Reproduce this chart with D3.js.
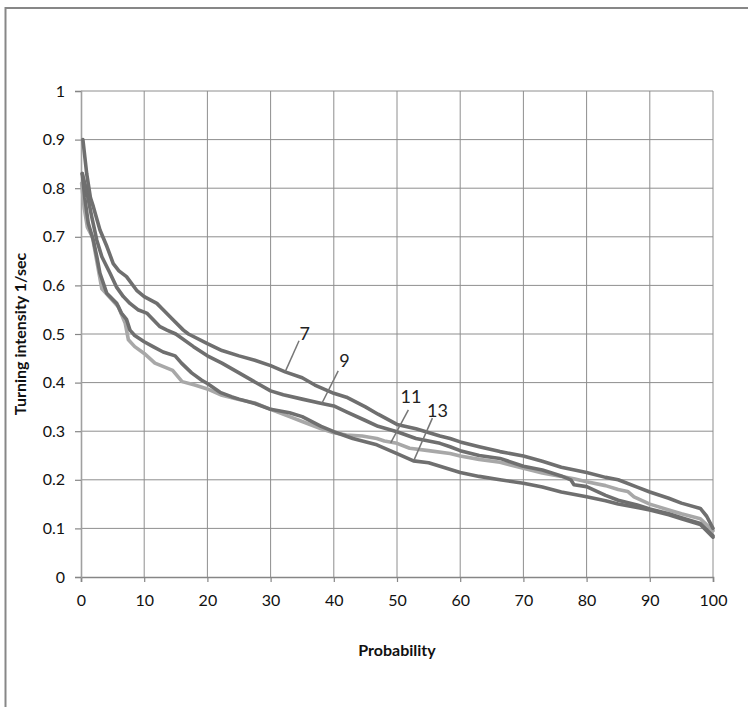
<!DOCTYPE html>
<html><head><meta charset="utf-8">
<script src="https://cdn.jsdelivr.net/npm/d3@7"></script>
<style>html,body{margin:0;padding:0;background:#fff;}svg{display:block;}</style>
</head><body><div id="chart"></div>
<script>
const xTicks = [0,10,20,30,40,50,60,70,80,90,100];
const yTicks = [0,0.1,0.2,0.3,0.4,0.5,0.6,0.7,0.8,0.9,1];
const seriesNames = ["7","9","11","13"];

const s7 = [[0.3,0.90],[0.6,0.865],[0.9,0.83],[1.5,0.78],[1.95,0.762],[3,0.714],[4.1,0.68],[5.1,0.645],[6,0.63],[7.2,0.618],[8.8,0.59],[10,0.577],[12,0.563],[13,0.55],[14.6,0.529],[16.2,0.508],[17,0.50],[20,0.48],[22.3,0.466],[25,0.455],[27.5,0.446],[30,0.435],[32.3,0.422],[35,0.41],[37,0.395],[40,0.378],[42,0.37],[45,0.35],[47,0.335],[50,0.314],[53,0.305],[56.8,0.29],[58.4,0.285],[60,0.278],[63,0.268],[66.3,0.258],[70,0.249],[73,0.238],[76,0.226],[80,0.215],[83,0.205],[85,0.2],[88,0.185],[90,0.175],[93,0.162],[95,0.152],[98,0.141],[99,0.125],[100,0.10]];
const s9 = [[0.2,0.83],[0.8,0.80],[1.7,0.741],[2.5,0.693],[3.3,0.659],[4.6,0.625],[5.6,0.597],[6.7,0.577],[7.75,0.563],[9,0.55],[10.4,0.543],[12.5,0.515],[13.6,0.508],[15,0.50],[17.8,0.474],[20,0.455],[22.3,0.44],[25,0.42],[27,0.405],[30,0.383],[32,0.375],[35,0.366],[38.1,0.357],[40,0.352],[42,0.34],[45,0.322],[47,0.31],[50,0.299],[53,0.285],[56.8,0.275],[58.4,0.268],[60,0.26],[63,0.25],[66.3,0.244],[70,0.228],[73,0.22],[76,0.208],[77.5,0.2],[78,0.19],[80,0.186],[83,0.168],[85,0.158],[88,0.148],[90,0.14],[93,0.13],[95,0.122],[98,0.11],[100,0.085]];
const s11 = [[0.1,0.81],[0.5,0.76],[1,0.72],[1.8,0.70],[2.5,0.65],[3.3,0.593],[4,0.583],[5.9,0.556],[7,0.522],[7.5,0.488],[8.5,0.474],[10,0.46],[11.7,0.44],[14.5,0.425],[16,0.402],[18,0.395],[20,0.387],[22.3,0.374],[25,0.365],[27.5,0.358],[30,0.345],[33,0.33],[35,0.32],[38,0.305],[40,0.297],[42,0.292],[44.5,0.29],[46.8,0.285],[48,0.28],[50,0.275],[52,0.265],[55,0.26],[58.4,0.254],[60,0.249],[63,0.242],[66.3,0.236],[70,0.224],[73,0.214],[76,0.207],[78,0.202],[80,0.196],[83,0.188],[85,0.18],[86.5,0.176],[87.5,0.165],[90,0.15],[93,0.138],[95,0.13],[98,0.12],[100,0.095]];
const s13 = [[0.2,0.83],[0.6,0.78],[1.15,0.728],[1.95,0.693],[2.5,0.659],[3,0.625],[4.07,0.584],[5.65,0.563],[6.4,0.543],[7.2,0.53],[7.75,0.508],[8.5,0.497],[10,0.484],[11.4,0.474],[13,0.463],[14.9,0.455],[15.9,0.44],[17.5,0.42],[19.1,0.405],[20,0.398],[22,0.38],[23.8,0.371],[25,0.366],[27.5,0.357],[30,0.345],[33,0.338],[35,0.33],[38,0.31],[40,0.299],[43,0.285],[46.8,0.272],[50,0.254],[52.6,0.239],[55,0.235],[56.8,0.228],[60,0.215],[63,0.207],[66.3,0.2],[70,0.193],[73,0.185],[76,0.175],[80,0.165],[83,0.157],[85,0.15],[88,0.143],[90,0.138],[93,0.128],[95,0.12],[98,0.108],[100,0.082]];
const seriesData = [s7, s9, s11, s13];
const seriesColors = ["#6f6f6f","#6f6f6f","#a8a8a8","#6f6f6f"];

const labelNames = ["7","9","11","13"];
const labelText = [[35.4,0.502],[41.7,0.447],[52.2,0.373],[56.4,0.344]];
const leaderFrom = [[34.5,0.486],[40.7,0.424],[51.8,0.344],[55.6,0.327]];
const leaderTo = [[32.3,0.422],[38.1,0.357],[49.0,0.276],[52.7,0.241]];

const W = 748, H = 707;
const svg = d3.select("#chart").append("svg").attr("width", W).attr("height", H);
svg.append("rect").attr("x",0).attr("y",0).attr("width",W).attr("height",H).attr("fill","#fff");
svg.append("rect").attr("x",5.5).attr("y",8).attr("width",W+20).attr("height",H+20)
  .attr("fill","none").attr("stroke","#878787").attr("stroke-width",2);

const x = d3.scaleLinear().domain([0,100]).range([81,713]);
const y = d3.scaleLinear().domain([0,1]).range([577,91]);
const font = "Lato, 'Open Sans', 'Liberation Sans', sans-serif";

const g = svg.append("g");
g.selectAll("line.vg").data(xTicks.slice(1)).enter().append("line")
  .attr("x1",d=>x(d)).attr("x2",d=>x(d)).attr("y1",y(1)).attr("y2",y(0))
  .attr("stroke","#8e8e8e").attr("stroke-width",1);
g.selectAll("line.hg").data(yTicks.slice(1)).enter().append("line")
  .attr("x1",x(0)).attr("x2",x(100)).attr("y1",d=>y(d)).attr("y2",d=>y(d))
  .attr("stroke","#8e8e8e").attr("stroke-width",1);

const xAxis = d3.axisBottom(x).tickValues(xTicks).tickSize(5).tickPadding(13).tickFormat(d3.format("d"));
const yAxis = d3.axisLeft(y).tickValues(yTicks).tickSize(6).tickPadding(10).tickFormat(d => d===0?"0":d===1?"1":d3.format(".1f")(d));
const gx = svg.append("g").attr("transform",`translate(0,${y(0)})`).call(xAxis);
const gy = svg.append("g").attr("transform",`translate(${x(0)},0)`).call(yAxis);
[gx,gy].forEach(a=>{
  a.select(".domain").attr("stroke","#868686").attr("stroke-width",1.6);
  a.selectAll(".tick line").attr("stroke","#868686").attr("stroke-width",1.2);
  a.selectAll(".tick text").attr("fill","#111").style("font-family",font).style("font-size","16px");
});
gy.select(".domain").attr("stroke","#a0a0a0");

const line = d3.line().x(d=>x(d[0])).y(d=>y(d[1]));
const order = [2,3,1,0];
order.forEach(i=>{
  svg.append("path").datum(seriesData[i]).attr("d",line)
    .attr("fill","none").attr("stroke",seriesColors[i]).attr("stroke-width",3.6)
    .attr("stroke-linejoin","round").attr("stroke-linecap","round");
});

labelNames.forEach((n,i)=>{
  svg.append("line").attr("x1",x(leaderFrom[i][0])).attr("y1",y(leaderFrom[i][1]))
    .attr("x2",x(leaderTo[i][0])).attr("y2",y(leaderTo[i][1]))
    .attr("stroke","#777").attr("stroke-width",1.5);
  svg.append("text").attr("x",x(labelText[i][0])).attr("y",y(labelText[i][1]))
    .attr("text-anchor","middle").attr("dominant-baseline","central")
    .style("font-family",font).style("font-size","18px").attr("fill","#222").text(n);
});

svg.append("text").attr("x",397).attr("y",656).attr("text-anchor","middle")
  .style("font-family",font).style("font-size","16px").style("font-weight","bold").attr("fill","#111").text("Probability");
svg.append("text").attr("transform","translate(26,334) rotate(-90)").attr("text-anchor","middle")
  .style("font-family",font).style("font-size","16px").style("font-weight","bold").attr("fill","#111").text("Turning intensity 1/sec");
</script></body></html>
